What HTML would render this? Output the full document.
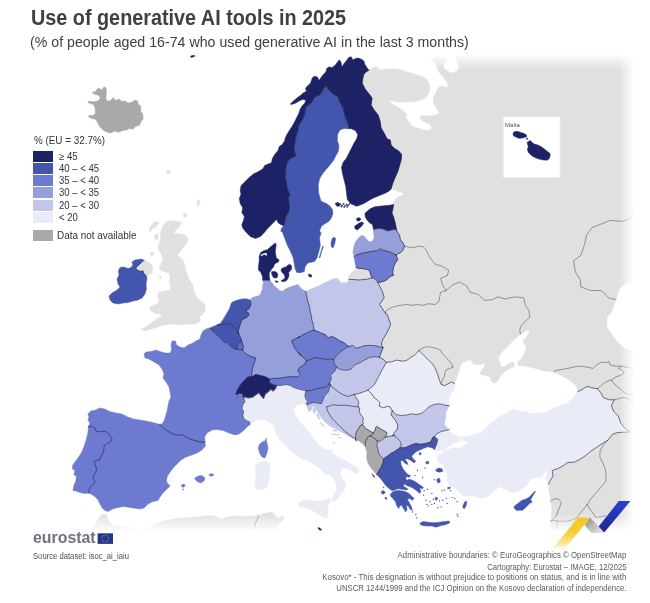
<!DOCTYPE html>
<html lang="en"><head><meta charset="utf-8"><title>Use of generative AI tools in 2025</title>
<style>
html,body{margin:0;padding:0;background:#fff;}
body{width:650px;height:603px;position:relative;overflow:hidden;font-family:"Liberation Sans",sans-serif;color:#404040;}
#map{position:absolute;left:0;top:0;width:650px;height:603px;}
.t{position:absolute;white-space:nowrap;line-height:1;}
#title{left:31px;top:8.2px;font-size:21.5px;font-weight:bold;color:#404040;transform:scaleX(0.921);transform-origin:0 0;}
#sub{left:30px;top:34.8px;font-size:14.3px;color:#404040;transform:scaleX(0.993);transform-origin:0 0;}
#leg{position:absolute;left:33px;top:134px;font-size:10px;color:#333;}
.lt{position:absolute;left:0.5px;top:2.2px;white-space:nowrap;line-height:1;transform:scaleX(0.986);transform-origin:0 0;}
.sw{position:absolute;left:0;width:20px;height:11px;}
.ll{position:absolute;left:25.7px;white-space:nowrap;line-height:11px;transform:scaleX(0.955);transform-origin:0 0;}
.f{position:absolute;right:23.8px;font-size:8.5px;line-height:1;color:#5a5a5a;white-space:nowrap;transform-origin:100% 0;}
#src{left:33px;top:551.5px;font-size:8.5px;color:#505050;transform:scaleX(0.903);transform-origin:0 0;}
#euro{left:33px;top:530.4px;font-size:16px;font-weight:bold;color:#70737f;transform:scaleX(0.992);transform-origin:0 0;}
</style></head><body>
<svg id="map" width="650" height="603" viewBox="0 0 650 603">
<defs>
<linearGradient id="ft" x1="0" y1="0" x2="0" y2="1"><stop offset="0" stop-color="#fff" stop-opacity="1"/><stop offset="1" stop-color="#fff" stop-opacity="0"/></linearGradient>
<linearGradient id="fb" x1="0" y1="1" x2="0" y2="0"><stop offset="0" stop-color="#fff" stop-opacity="1"/><stop offset="1" stop-color="#fff" stop-opacity="0"/></linearGradient>
<linearGradient id="fr" x1="1" y1="0" x2="0" y2="0"><stop offset="0" stop-color="#fff" stop-opacity="1"/><stop offset="1" stop-color="#fff" stop-opacity="0"/></linearGradient>
<linearGradient id="gy" x1="0" y1="0" x2="0" y2="1"><stop offset="0" stop-color="#f6c620"/><stop offset="0.45" stop-color="#f8cd34"/><stop offset="0.75" stop-color="#fbe389"/><stop offset="1" stop-color="#fff"/></linearGradient>
<linearGradient id="gg" x1="0" y1="0" x2="1" y2="1"><stop offset="0" stop-color="#8d8d8d"/><stop offset="1" stop-color="#ececec"/></linearGradient>
<linearGradient id="gb" x1="0" y1="0" x2="0" y2="1"><stop offset="0" stop-color="#2b3fd0"/><stop offset="1" stop-color="#1b2a8a"/></linearGradient>
<clipPath id="cm"><rect x="25" y="54" width="610" height="478"/></clipPath>
</defs>
<g clip-path="url(#cm)">
<g fill="#e0e0e0" stroke="#e0e0e0" stroke-width="0.4" stroke-linejoin="round">
<path d="M369.0,70.0 373.1,66.9 376.2,66.2 378.5,68.5 381.5,70.0 385.4,69.2 391.5,68.8 397.7,69.2 403.8,70.8 410.0,72.8 416.2,74.6 422.3,76.5 426.2,79.2 428.5,82.3 429.7,86.2 429.7,90.0 428.5,93.8 426.2,96.9 423.1,99.2 419.2,100.8 414.6,101.5 408.5,102.0 402.3,102.3 396.9,102.0 393.1,100.8 389.2,100.0 390.8,102.3 393.1,104.6 396.9,106.6 400.8,109.2 404.6,111.5 406.6,114.6 406.2,117.7 407.7,120.5 410.0,123.1 412.3,126.2 416.2,127.7 419.2,128.5 423.1,130.0 427.7,130.3 430.8,129.2 431.5,126.9 430.0,124.6 426.9,123.1 423.1,121.5 420.8,119.2 420.0,116.9 422.3,115.4 426.2,115.8 431.5,115.8 436.2,114.6 439.2,112.8 437.7,110.0 435.4,106.9 433.4,103.1 433.1,99.2 434.3,95.4 436.2,91.5 437.7,88.5 440.0,86.2 443.8,86.2 448.5,87.7 447.7,84.6 446.2,80.8 443.8,77.7 440.8,74.6 438.5,71.5 436.9,67.7 435.4,63.8 433.1,61.5 430.8,59.5 434.6,57.4 439.2,56.5 443.8,56.9 446.9,58.5 446.2,61.5 443.8,64.6 443.5,67.7 446.2,70.0 450.0,72.3 453.8,73.1 456.9,70.8 458.9,67.7 458.0,63.8 456.5,60.0 456.2,56.9 458.5,55.4 462.3,54.6 470.0,54.3 645.0,54.0 645.0,540.0 549.0,540.0 549.9,531.4 550.3,526.8 550.7,521.2 551.2,515.7 551.8,510.1 551.2,504.6 550.3,499.1 549.4,493.5 548.5,488.9 548.5,484.3 560.0,455.0 585.0,420.0 577.8,391.7 576.6,387.1 573.1,383.1 567.3,378.9 560.8,375.5 554.0,372.0 554.0,372.0 544.1,370.9 538.2,369.2 533.1,367.9 528.0,366.7 522.9,365.8 518.7,365.8 517.8,364.2 517.5,361.6 519.5,360.8 522.1,358.2 523.8,354.0 525.5,349.8 526.3,345.9 523.8,343.8 522.9,340.5 525.5,337.9 528.0,334.5 529.7,331.2 528.0,330.0 525.5,331.2 522.1,333.7 520.5,334.0 520.5,334.0 519.5,335.4 516.2,337.9 512.8,341.3 509.4,344.7 506.0,348.1 502.6,351.5 500.1,354.8 498.4,358.2 499.2,361.6 500.6,364.2 501.3,366.7 504.3,366.7 507.7,364.2 511.1,362.8 514.5,362.1 514.8,364.2 513.6,366.7 510.2,368.4 506.8,370.1 504.0,372.3 501.3,375.2 499.2,378.5 496.7,381.9 493.3,383.1 491.1,381.1 490.4,377.7 487.4,376.0 483.2,375.2 479.8,374.3 480.3,372.6 482.3,369.2 484.3,365.8 485.7,362.8 482.3,364.2 478.1,365.0 473.8,364.2 471.3,362.5 472.2,360.4 468.8,359.9 465.4,361.6 462.0,363.3 460.3,365.8 459.5,370.1 457.8,375.2 456.1,379.4 454.5,383.7 430.0,390.0 400.0,375.0 370.0,365.0 360.0,340.0 360.0,300.0 348.9,279.2 348.7,275.8 350.4,274.1 353.8,270.7 356.0,267.3 375.0,262.0 385.0,245.0 388.0,215.0 393.5,204.6 393.5,202.6 394.4,200.1 396.9,197.5 401.2,195.8 404.2,193.8 400.3,192.1 396.1,190.8 392.7,189.1 390.7,189.6 375.0,170.0 370.0,120.0 355.0,85.0 363.0,76.0 364.0,74.0 366.0,72.0 369.0,70.0Z M166.0,222.0 171.0,220.6 177.0,221.0 182.0,222.6 179.0,227.0 175.0,231.0 174.0,234.0 179.0,233.4 185.0,235.0 188.0,238.0 187.0,243.0 183.0,248.0 180.0,252.0 177.0,255.0 180.0,257.0 183.0,260.0 185.0,265.0 186.0,271.0 188.0,277.0 191.0,282.0 193.0,286.0 194.0,291.0 196.0,296.0 199.0,300.0 203.0,302.0 205.6,306.0 205.0,311.0 202.0,315.0 199.0,318.0 201.0,320.0 198.0,323.0 193.0,324.6 188.0,324.0 182.0,325.0 176.0,324.6 171.0,324.0 165.0,325.0 160.0,326.0 155.0,328.0 150.0,329.4 145.0,331.0 141.0,330.0 145.0,327.0 150.0,324.0 154.0,321.0 158.0,318.0 162.0,316.0 160.0,314.0 155.0,313.0 150.0,310.0 149.6,307.4 154.0,305.0 158.0,303.0 159.0,299.0 157.0,295.0 159.0,292.0 164.0,291.0 169.0,290.6 171.0,287.0 169.0,283.0 170.0,278.0 169.0,273.0 166.0,272.0 162.0,271.0 159.0,268.0 161.0,264.0 163.0,260.0 162.0,256.0 160.0,252.0 158.0,248.0 159.0,243.0 161.0,238.0 160.0,233.0 162.0,228.0 164.0,224.0Z M141.0,263.0 144.4,260.6 148.0,262.0 151.6,264.6 153.0,269.0 152.0,273.0 149.0,275.0 146.4,276.0 144.0,274.0 143.0,271.0 140.0,271.4 137.0,270.0 135.6,268.0 138.0,265.4Z M153.0,223.0 157.0,221.0 159.0,223.0 156.0,227.0 152.4,229.0 150.0,232.0 149.0,230.0Z M154.4,235.0 157.6,234.0 158.4,237.0 157.0,240.6 155.0,239.0Z M150.0,252.6 153.0,252.0 154.0,254.6 151.6,256.2Z M159.2,276.0 160.8,275.6 161.2,278.2 159.6,279.0Z M166.5,170.5 169.0,170.0 170.5,171.3 169.5,173.3 167.0,173.0Z M197.5,200.5 199.5,199.8 200.5,202.0 198.8,205.5 197.3,206.5 196.8,204.0Z M183.3,214.5 185.8,213.0 187.3,215.3 185.5,217.5 183.5,217.0Z M85.0,540.0 90.5,531.3 101.2,514.8 106.5,514.3 107.6,518.9 110.4,523.0 114.5,525.8 121.9,526.7 131.2,527.6 134.0,529.0 140.0,531.0 146.0,530.0 152.0,526.0 158.0,523.0 164.0,521.0 172.0,519.0 180.0,518.0 190.0,517.6 200.0,516.4 210.0,515.6 215.0,516.0 221.0,519.0 227.0,517.0 235.0,516.0 243.0,516.6 251.0,516.0 259.0,515.0 266.0,513.0 272.0,512.0 275.0,515.0 278.0,518.0 283.0,516.4 284.0,519.0 280.0,523.0 277.0,527.0 276.0,532.0 277.0,540.0Z"/>
</g>
<path fill="#fff" d="M650.0,279.0 636.0,281.0 627.0,283.0 620.0,288.5 616.0,299.5 612.3,310.8 607.0,318.5 607.5,328.0 613.0,336.0 618.0,342.5 625.0,348.0 633.0,352.0 650.0,356.0Z"/>
<g fill="none" stroke="#5c5c5c" stroke-width="0.6" stroke-linejoin="round" stroke-linecap="round">
<path d="M404.5,246.2 407.9,247.0 413.0,247.8 418.1,246.2 423.2,246.7 426.5,250.4 428.2,254.6 430.8,258.8 435.0,263.9 442.5,266.5 448.7,270.2 447.3,275.7 440.6,278.3 442.5,284.9 446.0,290.5 M385.3,313.0 387.6,309.6 392.7,307.1 399.5,305.4 406.2,304.5 413.0,305.4 417.2,304.5 423.2,305.4 428.2,303.7 435.0,304.5 438.8,301.6 440.6,292.3 446.0,290.5 M446.0,290.5 451.7,285.7 459.1,282.0 466.5,285.7 470.2,292.3 477.5,294.2 484.9,300.4 492.3,299.7 497.9,296.8 505.2,299.0 514.5,296.8 523.7,297.9 525.5,305.8 529.0,310.4 529.7,317.4 524.4,322.1 521.4,325.5 519.7,330.2 520.5,334.0 M634.5,207.4 630.8,218.5 621.6,221.4 610.5,220.3 601.3,224.0 592.0,227.7 586.5,235.1 584.6,244.3 580.9,255.4 573.6,260.9 575.4,272.0 580.2,279.4 580.9,286.8 590.2,290.5 601.3,290.5 608.6,297.9 616.0,299.7 M553.9,372.0 554.6,370.8 560.4,369.7 567.3,368.5 574.3,366.9 581.3,366.2 588.2,367.3 592.9,368.5 596.4,365.0 601.0,362.2 605.6,362.7 609.1,361.5 610.3,365.0 616.1,366.2 621.2,366.2 M597.5,388.7 602.2,384.7 606.8,381.3 611.4,380.1 M611.4,380.1 616.1,376.6 620.7,375.5 624.2,373.1 621.9,369.7 618.4,368.5 621.2,366.2 626.5,367.3 633.5,368.5 M611.4,380.1 614.9,384.7 619.6,388.2 623.1,391.7 626.5,394.0 633.5,395.7 M614.2,399.8 618.4,398.7 623.1,397.5 627.7,398.7 633.5,402.6 M607.5,440.5 602.9,445.5 600.1,451.1 599.8,456.6 602.4,462.2 604.8,467.7 606.1,474.2 605.7,481.5 601.1,487.1 595.5,493.5 590.0,500.0 587.2,504.6 M587.2,504.6 583.5,509.2 579.8,513.8 577.1,517.5 574.3,519.4 566.9,521.2 557.7,521.2 M587.2,504.6 590.0,509.2 593.7,513.8 595.5,517.5 601.1,516.6 605.7,515.7 M550.7,500.9 554.9,498.7 558.6,499.1 561.4,502.8 559.5,507.4 557.7,512.0 555.8,516.6 553.1,519.4 550.7,520.9 M550.7,521.2 554.0,520.3 557.7,521.2 556.8,526.8 555.8,531.4 M258.4,516.4 255.6,523.0 254.4,530.0"/>
<path d="M419.0,350.5 422.0,348.5 426.2,346.8 431.3,347.1 436.4,348.5 440.6,350.2 442.3,353.5 445.4,356.9 448.2,359.5 450.8,362.8 453.3,367.1 449.9,368.4 446.5,369.6 444.8,373.0 444.3,376.4 442.3,379.8 441.5,383.2 441.5,384.5"/>
</g>
<rect x="300" y="54" width="340" height="15" fill="url(#ft)"/>
<rect x="0" y="514" width="650" height="18" fill="url(#fb)"/>
<path fill="#1d2266" stroke="#1d2266" stroke-width="0.5" stroke-linejoin="round" d="M283.8,226.0 280.8,224.6 278.2,222.9 276.5,219.5 274.8,221.2 271.5,224.6 268.1,228.0 263.8,233.1 260.5,236.5 255.4,238.5 250.3,236.5 246.1,232.2 242.7,228.0 241.8,224.6 243.5,220.4 244.4,216.2 241.8,212.8 242.7,207.7 240.2,203.5 239.3,198.4 241.0,194.2 240.2,190.8 241.0,185.7 244.4,182.3 248.6,178.1 253.7,173.8 258.8,171.3 263.0,168.8 264.7,165.4 268.9,163.7 271.5,162.8 272.3,158.6 274.8,154.4 278.2,150.2 279.1,146.8 282.5,144.2 285.0,140.0 284.9,138.8 286.9,134.5 289.5,130.3 291.7,126.9 293.7,123.5 295.4,120.2 297.1,116.8 298.8,113.4 300.1,109.2 302.2,105.8 304.7,103.2 305.9,100.4 303.0,99.3 299.6,100.7 295.4,103.2 291.2,104.6 290.3,104.1 293.7,100.7 297.9,97.3 301.3,94.8 303.8,92.6 306.4,91.4 305.5,88.0 308.1,85.5 310.6,82.9 312.3,77.8 314.8,76.2 317.4,77.0 319.1,80.4 320.8,77.8 323.3,74.5 325.8,71.9 326.7,68.5 329.2,66.8 331.8,67.7 335.2,65.2 337.7,61.8 339.4,59.7 341.1,62.6 341.9,66.8 343.6,64.3 346.2,60.9 348.7,57.5 351.2,56.7 352.9,60.1 355.5,58.4 358.0,58.0 361.4,59.2 363.9,60.9 364.8,64.3 366.5,66.8 368.2,69.4 369.0,70.0 366.0,72.0 364.0,74.0 363.0,76.0 360.0,71.0 355.0,69.0 351.0,70.0 348.0,73.0 347.0,79.0 346.0,85.0 344.0,89.0 340.0,88.0 337.0,91.0 333.0,90.0 329.0,87.0 325.6,85.4 323.0,90.0 320.0,95.0 315.0,97.0 312.0,102.0 310.0,104.0 306.0,107.0 305.0,113.0 303.0,119.0 299.0,125.0 298.0,131.0 296.0,137.0 295.0,143.0 294.0,149.0 295.0,153.0 296.0,156.1 293.5,156.9 289.2,159.5 286.7,163.7 285.8,168.8 285.5,173.8 285.8,178.9 286.7,184.0 287.5,189.1 290.1,194.2 288.4,198.4 289.2,202.6 289.6,207.7 288.4,212.8 285.8,217.0 285.0,221.2 283.8,226.0Z"/>
<path fill="#1d2266" stroke="#1d2266" stroke-width="0.5" stroke-linejoin="round" d="M348.8,128.7 350.7,128.6 355.6,130.7 357.8,134.9 356.5,139.0 354.0,143.2 351.5,148.1 349.0,153.1 346.5,158.1 343.2,162.2 341.5,167.2 342.4,173.0 344.0,179.7 345.7,186.3 346.5,192.9 347.3,199.6 350.7,203.7 356.5,206.2 359.7,205.2 363.9,203.5 368.2,200.9 372.4,198.4 376.6,196.7 380.8,195.0 385.1,193.3 388.5,191.6 390.2,189.9 390.7,189.6 392.7,183.2 395.2,177.2 397.8,171.3 399.5,165.4 401.2,159.5 401.5,154.4 398.6,151.0 394.4,148.5 391.0,145.1 390.2,140.0 387.0,139.0 384.0,133.0 381.0,128.0 380.0,121.0 378.0,115.0 374.0,110.0 371.0,105.0 372.0,98.0 369.0,94.0 365.0,89.0 362.0,83.0 363.0,77.0 363.0,76.0 360.0,71.0 355.0,69.0 351.0,70.0 348.0,73.0 347.0,79.0 346.0,85.0 344.0,89.0 340.0,88.0 337.0,91.0 333.0,90.0 329.0,87.0 325.6,85.4 328.0,89.0 333.0,94.0 338.0,97.0 340.0,103.0 343.0,108.0 344.0,113.0 346.0,119.0 348.0,124.0 348.8,128.7Z M335.2,203.5 337.7,202.3 340.2,204.0 339.4,206.3 336.5,206.0Z"/>
<path fill="#4455ae" stroke="#4455ae" stroke-width="0.5" stroke-linejoin="round" d="M348.8,128.7 344.0,128.6 339.9,129.9 337.4,134.9 337.4,140.7 339.0,145.7 338.2,151.5 335.7,156.1 333.6,160.2 329.6,165.4 325.8,169.7 322.5,173.8 319.6,178.8 318.3,184.6 318.6,192.9 320.8,200.4 322.2,201.8 326.5,203.5 329.8,206.0 332.4,209.4 332.9,213.6 331.5,217.8 329.0,221.2 324.8,223.8 321.4,226.3 319.7,230.5 320.5,234.8 321.2,231.8 319.5,238.5 320.4,245.3 318.7,252.1 317.0,258.0 314.5,261.4 307.7,263.1 305.2,266.5 304.3,271.5 300.9,272.7 296.7,272.4 295.0,268.2 294.2,263.1 293.3,258.0 290.8,252.1 287.4,245.3 284.8,238.5 282.3,231.8 280.8,231.4 281.6,228.0 283.8,226.0 285.0,221.2 285.8,217.0 288.4,212.8 289.6,207.7 289.2,202.6 288.4,198.4 290.1,194.2 287.5,189.1 286.7,184.0 285.8,178.9 285.5,173.8 285.8,168.8 286.7,163.7 289.2,159.5 293.5,156.9 296.0,156.1 295.0,153.0 294.0,149.0 295.0,143.0 296.0,137.0 298.0,131.0 299.0,125.0 303.0,119.0 305.0,113.0 306.0,107.0 310.0,104.0 312.0,102.0 315.0,97.0 320.0,95.0 323.0,90.0 325.6,85.4 328.0,89.0 333.0,94.0 338.0,97.0 340.0,103.0 343.0,108.0 344.0,113.0 346.0,119.0 348.0,124.0 348.8,128.7Z M322.6,246.2 323.3,246.7 321.2,252.9 319.9,258.0 319.2,257.7 320.9,252.1Z M332.2,238.5 333.9,237.2 335.6,238.2 334.8,243.6 333.1,247.8 331.4,247.0 331.0,242.8Z"/>
<path fill="#1d2266" stroke="#1d2266" stroke-width="0.5" stroke-linejoin="round" d="M373.5,229.5 372.4,224.6 369.8,222.9 367.3,220.4 365.3,217.0 364.8,213.6 367.3,211.1 370.7,208.5 374.9,206.8 379.2,206.3 384.2,205.7 389.3,205.2 393.5,204.6 392.7,209.4 391.8,212.8 393.5,217.0 394.7,221.2 395.7,225.5 396.5,230.3 396.1,229.2 391.8,230.1 387.6,230.9 383.4,229.2 379.2,228.4 373.5,229.5Z M356.3,218.7 358.8,217.5 360.9,218.7 359.7,220.9 357.2,220.9Z M354.6,226.3 358.0,223.8 361.4,222.1 363.6,222.9 362.2,225.5 359.7,228.0 357.2,230.0 355.1,228.8Z"/>
<path fill="#959fd9" stroke="#959fd9" stroke-width="0.5" stroke-linejoin="round" d="M354.1,256.8 352.9,252.1 353.8,247.0 355.1,242.8 358.0,238.5 361.4,235.2 364.8,236.8 367.3,240.2 369.8,241.9 372.4,241.1 374.1,237.7 373.7,233.5 373.5,229.5 379.2,228.4 383.4,229.2 387.6,230.9 391.8,230.1 396.1,229.2 396.5,230.3 399.5,235.2 400.3,239.4 402.8,242.8 404.5,246.2 402.8,250.4 400.3,252.9 396.9,254.1 396.1,255.1 391.8,252.9 387.6,251.2 383.4,250.4 380.5,248.7 377.5,250.7 373.2,251.2 368.2,252.1 363.9,252.9 359.7,253.8 356.3,255.1 354.1,256.8Z"/>
<path fill="#6c7ad0" stroke="#6c7ad0" stroke-width="0.5" stroke-linejoin="round" d="M356.0,267.3 355.1,263.1 354.6,259.7 354.1,256.8 356.3,255.1 359.7,253.8 363.9,252.9 368.2,252.1 373.2,251.2 377.5,250.7 380.5,248.7 383.4,250.4 387.6,251.2 391.8,252.9 396.1,255.1 397.8,259.7 395.2,263.1 393.5,267.3 392.7,272.4 393.5,275.4 390.2,276.6 387.6,279.2 384.2,281.2 380.0,282.2 377.8,282.2 374.9,279.2 372.7,277.8 372.0,277.8 370.4,274.1 369.8,270.7 366.5,269.3 362.2,268.7 358.0,268.2 356.0,267.3Z"/>
<path fill="#c2c7ea" stroke="#c2c7ea" stroke-width="0.5" stroke-linejoin="round" d="M305.7,291.3 312.3,288.5 318.5,286.1 324.6,283.0 330.8,279.9 336.2,278.1 338.5,279.6 340.3,282.4 343.8,283.0 346.9,282.4 348.6,280.4 348.9,279.2 358.8,280.0 367.3,279.2 372.0,277.8 372.7,277.8 374.9,279.2 377.8,282.2 380.0,286.8 382.5,291.8 384.2,297.8 381.7,301.2 379.5,304.5 382.5,308.8 385.3,313.0 387.2,314.4 388.9,319.5 390.6,324.5 388.9,328.8 386.4,333.8 383.0,338.9 381.3,344.0 383.0,347.7 378.8,346.5 374.5,345.7 369.5,345.4 364.4,345.7 360.2,347.4 355.9,348.2 352.5,345.4 348.8,346.5 346.6,344.8 343.2,342.3 339.0,340.6 335.6,338.1 331.4,336.4 328.0,338.1 325.5,334.7 321.2,333.0 317.0,331.3 314.0,330.1 313.6,325.4 311.9,320.3 311.1,315.2 310.2,311.3 309.4,306.2 307.7,301.2 306.8,296.1 305.7,291.3Z"/>
<path fill="#959fd9" stroke="#959fd9" stroke-width="0.5" stroke-linejoin="round" d="M249.6,300.0 253.2,297.1 256.5,296.5 260.2,294.9 261.3,291.7 262.7,288.5 262.4,285.8 263.5,283.1 262.7,280.3 270.0,280.3 272.1,283.1 274.2,285.8 276.9,287.9 279.6,290.6 282.3,291.2 285.5,289.0 288.8,287.4 292.5,286.3 295.8,285.2 297.9,284.2 299.0,285.8 300.6,287.9 303.3,290.1 305.7,291.3 306.8,296.1 307.7,301.2 309.4,306.2 310.2,311.3 311.1,315.2 311.9,320.3 313.6,325.4 314.0,330.1 310.2,331.3 306.8,333.0 301.8,335.5 297.5,338.1 299.9,336.5 294.8,339.1 291.5,340.8 293.2,344.2 294.8,348.4 298.2,352.6 301.6,356.0 298.4,352.5 302.6,356.7 306.5,360.6 305.9,362.0 303.7,365.1 299.5,367.6 297.8,371.0 300.3,374.4 297.8,376.9 292.7,376.6 287.6,376.9 282.5,377.8 277.5,378.3 272.4,378.6 269.4,379.2 267.8,378.0 264.4,376.6 260.2,375.5 255.9,374.6 252.0,376.8 251.7,372.9 252.5,367.8 254.2,362.8 255.9,358.0 250.8,356.3 246.6,354.3 244.1,352.3 242.6,349.6 243.3,347.2 242.8,344.3 241.6,341.7 241.3,339.3 240.3,337.3 239.3,335.3 238.6,333.3 238.0,330.6 238.8,329.3 239.3,327.3 240.0,324.9 240.8,322.4 241.8,320.4 243.3,318.9 244.8,318.4 246.8,317.4 248.3,315.9 248.8,313.9 247.8,312.4 245.8,311.4 246.3,309.9 248.8,308.9 249.8,306.9 250.8,304.5 250.6,302.0 249.6,300.0Z"/>
<path fill="#1d2266" stroke="#1d2266" stroke-width="0.5" stroke-linejoin="round" d="M262.7,280.3 262.4,276.6 260.8,272.3 258.6,270.2 258.4,266.9 259.2,261.5 259.2,256.2 260.8,252.4 263.5,250.8 267.2,249.7 269.9,247.5 272.1,245.4 274.2,243.8 275.8,243.2 276.2,245.4 275.6,248.6 275.3,251.8 275.8,255.1 276.4,258.3 278.5,259.2 279.1,261.0 277.5,262.6 275.6,263.2 274.2,264.8 273.7,266.9 272.1,268.5 270.5,270.7 269.4,272.8 269.2,275.5 269.6,278.2 270.0,280.3Z M271.5,271.8 274.2,271.2 276.7,272.3 277.8,274.5 277.5,277.2 275.3,278.2 273.2,277.2 271.8,274.5Z M281.2,269.1 283.4,267.5 286.1,266.9 287.7,265.3 289.8,264.2 291.5,265.8 291.8,268.5 290.4,270.7 288.8,272.3 289.0,275.5 288.2,278.2 286.6,280.4 284.5,281.5 281.8,281.5 281.2,280.4 283.9,279.3 285.0,277.2 284.2,274.5 282.3,272.8 281.2,271.2Z M275.3,280.7 278.2,281.5 277.8,282.5 275.6,282.0Z M308.2,274.5 310.3,274.2 311.9,275.5 311.2,277.2 309.0,276.6Z"/>
<path fill="#4455ae" stroke="#4455ae" stroke-width="0.5" stroke-linejoin="round" d="M217.4,324.7 220.4,323.4 221.4,321.9 223.4,318.9 224.9,316.4 226.4,313.9 227.9,311.4 229.4,308.9 230.4,305.9 231.1,303.5 232.4,302.0 234.9,301.0 237.8,300.0 240.8,299.2 244.3,298.8 247.3,299.0 249.6,300.0 250.6,302.0 250.8,304.5 249.8,306.9 248.8,308.9 246.3,309.9 245.8,311.4 247.8,312.4 248.8,313.9 248.3,315.9 246.8,317.4 244.8,318.4 243.3,318.9 241.8,320.4 240.8,322.4 240.0,324.9 239.3,327.3 238.8,329.3 238.0,330.6 238.6,333.3 237.8,330.8 236.8,329.3 235.3,327.8 233.9,326.3 231.9,324.9 229.9,324.1 227.4,323.7 224.9,323.9 222.4,324.4 219.9,324.9 217.4,324.7Z"/>
<path fill="#4455ae" stroke="#4455ae" stroke-width="0.5" stroke-linejoin="round" d="M210.1,328.0 217.4,324.7 219.9,324.9 222.4,324.4 224.9,323.9 227.4,323.7 229.9,324.1 231.9,324.9 233.9,326.3 235.3,327.8 236.8,329.3 237.8,330.8 238.6,333.3 239.3,335.3 240.3,337.3 241.3,339.3 241.6,341.7 239.0,341.6 237.6,344.3 237.0,346.7 236.9,349.4 234.9,349.2 232.9,348.2 231.1,346.7 229.4,345.2 227.9,343.8 226.4,342.3 224.4,342.8 222.9,341.3 221.4,339.3 219.9,337.3 217.9,335.8 215.9,334.3 214.5,332.8 212.5,331.3 211.0,329.3 210.1,328.0Z"/>
<path fill="#586bc6" stroke="#586bc6" stroke-width="0.5" stroke-linejoin="round" d="M241.6,341.7 239.0,341.6 237.6,344.3 237.0,346.7 236.9,349.4 239.8,349.8 242.6,349.6 243.3,347.2 242.8,344.3 241.6,341.7Z"/>
<path fill="#6c7ad0" stroke="#6c7ad0" stroke-width="0.5" stroke-linejoin="round" d="M210.1,328.0 207.0,328.4 203.0,331.0 201.0,335.0 200.0,339.0 196.0,341.0 192.0,343.6 188.0,345.0 184.0,348.0 180.0,347.0 176.4,345.0 175.6,341.0 172.0,341.0 171.0,345.0 171.6,350.0 170.0,353.0 165.0,353.0 160.0,351.6 156.0,350.0 151.0,351.6 146.0,352.0 144.0,354.0 145.0,358.0 149.0,359.0 154.0,362.0 159.0,365.0 162.0,369.0 164.0,374.0 163.0,378.0 166.0,382.0 169.0,387.0 170.0,392.0 171.0,397.0 169.0,401.0 168.0,406.0 167.0,411.0 165.6,416.0 164.0,421.0 162.0,424.0 159.5,424.3 162.0,427.0 166.0,430.0 171.0,433.0 177.0,435.4 182.0,434.6 186.0,437.0 190.0,439.0 195.0,440.6 200.0,442.0 205.0,442.0 204.6,437.0 207.0,433.0 212.0,430.0 217.0,429.4 223.0,430.6 229.0,433.0 235.0,435.0 239.0,434.0 243.0,431.0 247.0,427.0 250.0,424.0 249.5,425.0 250.0,422.3 247.0,420.9 243.6,418.4 242.8,415.0 243.6,411.6 241.9,408.2 242.8,404.8 245.0,401.5 243.6,398.0 242.8,393.8 239.4,393.0 236.8,394.7 236.0,393.8 237.7,389.6 240.2,385.4 243.6,381.2 247.0,377.8 248.7,376.9 252.0,376.8 251.7,372.9 252.5,367.8 254.2,362.8 255.9,358.0 250.8,356.3 246.6,354.3 244.1,352.3 242.6,349.6 239.8,349.8 236.9,349.4 234.9,349.2 232.9,348.2 231.1,346.7 229.4,345.2 227.9,343.8 226.4,342.3 224.4,342.8 222.9,341.3 221.4,339.3 219.9,337.3 217.9,335.8 215.9,334.3 214.5,332.8 212.5,331.3 211.0,329.3 210.1,328.0Z M266.0,438.0 267.0,443.0 268.0,448.0 267.0,453.0 265.0,458.0 262.0,457.0 260.0,454.0 258.4,449.0 259.0,445.0 262.0,442.0 265.0,441.0Z"/>
<path fill="#1d2266" stroke="#1d2266" stroke-width="0.5" stroke-linejoin="round" d="M252.0,376.8 248.7,376.9 247.0,377.8 243.6,381.2 240.2,385.4 237.7,389.6 236.0,393.8 236.8,394.7 239.4,393.0 242.8,393.8 243.6,398.0 244.5,397.2 248.7,398.1 252.9,397.2 256.3,394.7 258.8,393.0 261.4,396.4 263.6,398.9 265.6,393.8 268.2,392.2 270.7,389.6 273.2,391.3 275.8,388.8 276.6,385.4 273.2,384.5 269.8,382.8 269.4,379.2 267.8,378.0 264.4,376.6 260.2,375.5 255.9,374.6 252.0,376.8Z"/>
<path fill="#6c7ad0" stroke="#6c7ad0" stroke-width="0.5" stroke-linejoin="round" d="M88.3,426.9 89.9,422.9 87.9,419.9 88.9,416.9 87.9,413.9 90.8,410.9 95.8,410.0 99.8,408.0 104.8,409.0 109.8,411.5 115.7,412.9 121.7,413.9 127.7,416.9 133.6,418.9 139.6,419.9 145.6,420.9 151.5,422.3 159.5,424.3 162.0,427.0 166.0,430.0 171.0,433.0 177.0,435.4 182.0,434.6 186.0,437.0 190.0,439.0 195.0,440.6 200.0,442.0 205.0,442.0 205.4,446.0 202.0,450.0 197.0,453.0 192.0,455.0 186.0,457.0 181.0,460.0 178.0,463.0 174.0,467.0 170.0,472.0 167.0,477.0 166.6,482.0 170.0,486.0 167.0,489.0 163.0,493.0 160.0,497.0 158.0,500.6 153.0,501.4 148.0,504.0 144.0,508.0 140.0,509.0 129.7,507.5 123.7,506.5 117.7,507.5 112.7,509.1 107.8,511.4 104.8,510.4 101.8,507.5 99.8,503.5 97.8,499.5 94.8,496.5 91.8,494.5 88.9,493.1 88.9,490.5 89.9,487.6 92.8,484.6 94.8,481.6 92.8,477.6 94.8,473.6 96.8,469.7 95.4,465.7 94.2,461.7 95.8,460.7 99.8,459.7 100.8,456.7 102.8,453.7 103.8,449.8 104.2,445.8 106.8,443.8 110.7,441.8 112.1,438.2 109.8,435.8 107.8,432.8 104.8,431.4 99.8,431.8 95.8,430.8 94.8,427.9 91.8,426.3 88.3,426.9Z M194.4,478.6 198.0,476.0 202.0,475.4 205.0,478.0 204.0,481.0 200.6,483.0 197.0,481.4Z M209.0,474.4 212.0,473.6 214.0,475.0 212.0,476.2 209.4,475.8Z M181.4,485.0 184.0,484.0 185.4,485.4 183.4,487.4 181.6,486.6Z M182.6,489.0 183.6,489.0 183.6,490.0 182.6,490.0Z"/>
<path fill="#6c7ad0" stroke="#6c7ad0" stroke-width="0.5" stroke-linejoin="round" d="M88.9,493.1 84.9,493.5 79.9,492.5 75.9,491.1 72.9,490.5 73.9,485.6 75.9,480.6 76.3,476.6 73.9,474.6 74.9,470.6 72.3,468.7 72.9,464.7 75.9,460.7 78.9,456.7 81.9,451.7 83.9,446.8 85.9,440.8 87.5,434.8 88.3,429.9 88.3,426.9 91.8,426.3 94.8,427.9 95.8,430.8 99.8,431.8 104.8,431.4 107.8,432.8 109.8,435.8 112.1,438.2 110.7,441.8 106.8,443.8 104.2,445.8 103.8,449.8 102.8,453.7 100.8,456.7 99.8,459.7 95.8,460.7 94.2,461.7 95.4,465.7 96.8,469.7 94.8,473.6 92.8,477.6 94.8,481.6 92.8,484.6 89.9,487.6 88.9,490.5 88.9,493.1Z"/>
<path fill="#6c7ad0" stroke="#6c7ad0" stroke-width="0.5" stroke-linejoin="round" d="M314.0,330.1 310.2,331.3 306.8,333.0 301.8,335.5 297.5,338.1 299.9,336.5 294.8,339.1 291.5,340.8 293.2,344.2 294.8,348.4 298.2,352.6 301.6,356.0 298.4,352.5 302.6,356.7 306.5,360.6 311.1,359.2 315.3,357.5 320.4,358.4 325.5,359.2 330.5,359.2 333.6,359.6 336.5,355.8 339.8,352.5 343.2,349.9 346.6,347.4 348.8,346.5 346.6,344.8 343.2,342.3 339.0,340.6 335.6,338.1 331.4,336.4 328.0,338.1 325.5,334.7 321.2,333.0 317.0,331.3 314.0,330.1Z"/>
<path fill="#6c7ad0" stroke="#6c7ad0" stroke-width="0.5" stroke-linejoin="round" d="M269.4,379.2 272.4,378.6 277.5,378.3 282.5,377.8 287.6,376.9 292.7,376.6 297.8,376.9 300.3,374.4 297.8,371.0 299.5,367.6 303.7,365.1 305.9,362.0 306.5,360.6 311.1,359.2 315.3,357.5 320.4,358.4 325.5,359.2 330.5,359.2 333.6,359.6 334.3,363.5 336.5,366.8 335.6,370.2 333.1,372.8 330.5,375.3 331.4,378.7 329.5,383.0 326.5,387.1 321.5,387.9 316.4,388.8 311.3,390.5 306.1,390.8 302.8,390.1 297.8,388.8 292.7,387.1 290.2,385.4 285.9,384.5 280.8,385.4 276.6,385.4 273.2,384.5 269.8,382.8 269.4,379.2Z"/>
<path fill="#959fd9" stroke="#959fd9" stroke-width="0.5" stroke-linejoin="round" d="M333.6,359.6 336.5,355.8 339.8,352.5 343.2,349.9 346.6,347.4 348.8,346.5 352.5,345.4 355.9,348.2 360.2,347.4 364.4,345.7 369.5,345.4 374.5,345.7 378.8,346.5 383.0,347.7 381.3,352.5 379.3,357.2 374.5,356.7 369.5,357.5 364.4,360.1 360.2,362.6 355.9,364.3 352.5,366.8 350.8,369.4 345.8,370.2 340.7,369.7 337.3,367.7 336.5,366.8 334.3,363.5 333.6,359.6Z"/>
<path fill="#c2c7ea" stroke="#c2c7ea" stroke-width="0.5" stroke-linejoin="round" d="M336.5,366.8 337.3,367.7 340.7,369.7 345.8,370.2 350.8,369.4 352.5,366.8 355.9,364.3 360.2,362.6 364.4,360.1 369.5,357.5 374.5,356.7 379.3,357.2 383.0,359.2 386.4,362.3 383.8,366.8 381.3,371.1 378.8,376.2 376.2,381.2 373.7,385.5 370.3,388.0 368.0,390.1 362.7,392.2 357.6,393.9 354.0,394.5 347.5,396.5 343.2,394.8 339.0,392.2 335.6,389.7 332.2,387.2 330.5,384.6 330.2,385.3 329.5,383.0 331.4,378.7 330.5,375.3 333.1,372.8 335.6,370.2 336.5,366.8Z"/>
<path fill="#6c7ad0" stroke="#6c7ad0" stroke-width="0.5" stroke-linejoin="round" d="M306.1,390.8 311.3,390.5 316.4,388.8 321.5,387.9 326.5,387.1 329.5,383.0 330.2,385.3 328.2,392.2 325.7,394.7 324.6,396.2 322.8,399.9 321.5,403.6 317.2,403.0 313.5,402.4 309.8,403.6 307.3,404.9 306.2,404.2 307.4,401.2 305.5,398.7 304.9,395.0 306.1,390.8Z"/>
<path fill="#c2c7ea" stroke="#c2c7ea" stroke-width="0.5" stroke-linejoin="round" d="M307.3,404.9 306.8,405.5 307.4,408.5 309.2,411.6 311.1,410.4 312.3,407.3 313.5,406.1 316.0,409.8 318.5,413.5 320.9,417.2 323.4,420.2 325.8,422.7 328.9,425.2 332.0,427.2 335.7,428.8 339.4,430.7 342.5,432.5 345.5,434.4 348.6,436.2 351.7,437.8 354.8,439.3 356.3,441.0 355.6,439.3 354.8,438.3 352.3,436.8 349.8,435.0 347.4,433.2 344.9,431.3 342.5,428.8 340.0,426.4 337.5,423.9 335.1,421.5 332.6,419.0 330.8,416.5 328.9,413.5 327.1,409.8 326.5,406.7 329.5,406.1 332.6,404.8 336.3,405.1 340.6,405.5 344.3,405.1 348.0,405.5 351.7,406.1 355.4,406.7 358.0,406.8 358.8,401.9 356.3,397.7 354.0,394.5 347.5,396.5 343.2,394.8 339.0,392.2 335.6,389.7 332.2,387.2 330.5,384.6 330.2,385.3 328.2,392.2 325.7,394.7 324.6,396.2 322.8,399.9 321.5,403.6 317.2,403.0 313.5,402.4 309.8,403.6 307.3,404.9Z M312.9,408.5 314.5,407.9 315.4,410.4 314.5,413.5 313.3,412.2Z M316.6,413.5 318.2,414.7 319.9,419.0 319.1,419.6 317.2,416.5Z M320.3,421.5 322.2,423.9 324.0,425.8 323.4,426.4 321.2,424.3Z M333.0,429.8 336.9,430.2 336.9,431.2 333.2,430.9Z M331.4,433.9 339.4,434.4 339.4,435.1 331.5,434.8Z M339.1,437.2 341.2,437.5 341.1,438.2 339.3,438.0Z M333.0,442.4 334.7,442.8 334.5,443.5 333.0,443.2Z"/>
<path fill="#c2c7ea" stroke="#c2c7ea" stroke-width="0.5" stroke-linejoin="round" d="M358.0,406.8 355.4,406.7 351.7,406.1 348.0,405.5 344.3,405.1 340.6,405.5 336.3,405.1 332.6,404.8 329.5,406.1 326.5,406.7 327.1,409.8 328.9,413.5 330.8,416.5 332.6,419.0 335.1,421.5 337.5,423.9 340.0,426.4 342.5,428.8 344.9,431.3 347.4,433.2 349.8,435.0 352.3,436.8 354.8,438.3 355.6,439.3 355.8,436.5 355.8,433.9 356.8,431.2 358.5,428.5 360.1,425.8 362.5,424.7 363.4,423.9 362.8,421.5 363.4,419.0 362.2,416.5 360.3,414.1 359.1,411.0 359.7,407.9 358.0,406.8Z"/>
<path fill="#e9ebf6" stroke="#e9ebf6" stroke-width="0.5" stroke-linejoin="round" d="M368.0,390.1 362.7,392.2 357.6,393.9 354.0,394.5 356.3,397.7 358.8,401.9 358.0,406.8 359.7,407.9 359.1,411.0 360.3,414.1 362.2,416.5 363.4,419.0 362.8,421.5 363.4,423.9 362.5,424.7 363.9,426.6 366.5,429.0 370.3,431.2 373.2,433.1 375.2,430.1 375.7,427.4 377.3,426.6 380.0,428.5 382.7,430.1 385.4,431.7 387.0,432.8 386.5,434.9 385.4,437.1 388.1,436.5 391.3,436.0 394.0,435.5 392.7,435.8 394.4,432.4 396.9,429.8 397.8,425.6 396.1,421.4 393.5,418.0 391.0,414.6 392.4,410.7 391.8,410.4 390.2,407.0 387.6,406.2 383.4,407.8 379.2,406.2 380.0,402.8 377.5,400.2 374.1,397.7 371.5,393.5 368.0,390.1Z"/>
<path fill="#a9a9a9" stroke="#a9a9a9" stroke-width="0.5" stroke-linejoin="round" d="M362.5,424.7 360.1,425.8 358.5,428.5 356.8,431.2 355.8,433.9 355.8,436.5 355.6,439.3 356.3,441.0 357.9,440.3 360.1,441.9 362.8,444.1 365.3,446.2 365.3,443.0 366.0,440.3 367.1,438.2 368.2,436.5 370.6,436.0 371.9,434.9 373.2,433.1 370.3,431.2 366.5,429.0 363.9,426.6 362.5,424.7Z"/>
<path fill="#a9a9a9" stroke="#a9a9a9" stroke-width="0.5" stroke-linejoin="round" d="M385.4,437.1 386.5,434.9 387.0,432.8 385.4,431.7 382.7,430.1 380.0,428.5 377.3,426.6 375.7,427.4 375.2,430.1 373.2,433.1 371.9,434.9 370.6,436.0 371.7,436.5 373.5,437.8 375.7,439.2 377.3,440.9 379.5,441.4 381.6,440.3 383.2,438.7 385.4,437.1Z"/>
<path fill="#a9a9a9" stroke="#a9a9a9" stroke-width="0.5" stroke-linejoin="round" d="M370.6,436.0 368.2,436.5 367.1,438.2 366.0,440.3 365.3,443.0 365.3,446.2 366.0,449.5 367.1,452.7 366.5,456.5 367.1,460.2 368.2,463.5 369.8,466.2 371.9,468.9 374.1,471.6 376.5,474.6 377.3,473.7 378.4,471.6 379.7,469.4 381.1,467.2 382.2,464.6 383.2,461.9 383.6,459.7 381.6,457.0 379.5,454.9 378.4,452.2 377.9,448.9 376.8,446.2 377.1,443.5 377.3,440.9 375.7,439.2 373.5,437.8 371.7,436.5 370.6,436.0Z"/>
<path fill="#c2c7ea" stroke="#c2c7ea" stroke-width="0.5" stroke-linejoin="round" d="M394.0,435.5 391.3,436.0 388.1,436.5 385.4,437.1 383.2,438.7 381.6,440.3 379.5,441.4 377.3,440.9 377.1,443.5 376.8,446.2 377.9,448.9 378.4,452.2 379.5,454.9 381.6,457.0 383.6,459.7 384.3,458.1 387.0,456.5 390.2,453.8 393.5,452.2 396.7,450.0 399.9,447.9 401.2,446.2 401.0,443.0 399.4,440.3 396.7,437.6 394.0,435.5Z"/>
<path fill="#c2c7ea" stroke="#c2c7ea" stroke-width="0.5" stroke-linejoin="round" d="M392.4,410.7 396.1,414.6 401.2,415.5 406.2,415.1 411.3,413.8 416.1,414.5 421.2,413.6 424.5,411.1 427.9,407.7 432.2,405.2 436.4,404.0 440.6,404.0 444.8,405.2 449.1,405.7 447.4,409.4 445.7,412.8 446.0,417.0 444.8,421.2 444.3,424.6 446.5,427.2 449.0,429.5 445.7,430.5 441.5,431.4 438.1,433.1 435.5,434.8 434.5,436.8 432.7,437.5 431.0,441.8 425.9,443.5 420.8,444.3 415.8,443.5 410.7,445.2 405.6,447.7 399.9,447.9 401.2,446.2 401.0,443.0 399.4,440.3 396.7,437.6 394.0,435.5 392.7,435.8 394.4,432.4 396.9,429.8 397.8,425.6 396.1,421.4 393.5,418.0 391.0,414.6 392.4,410.7Z"/>
<path fill="#e9ebf6" stroke="#e9ebf6" stroke-width="0.5" stroke-linejoin="round" d="M386.4,362.3 391.5,361.8 396.5,360.1 403.4,361.2 406.8,360.3 410.2,357.8 414.4,355.2 417.8,351.8 419.0,350.5 422.0,353.5 425.4,356.9 428.8,360.3 432.2,363.7 434.7,367.1 436.4,371.3 438.1,375.5 439.3,379.8 440.6,383.2 441.5,384.5 444.8,385.7 448.2,383.7 451.6,382.0 454.5,383.7 455.0,388.2 452.5,391.6 449.9,395.0 449.1,399.2 449.4,403.5 449.1,405.7 444.8,405.2 440.6,404.0 436.4,404.0 432.2,405.2 427.9,407.7 424.5,411.1 421.2,413.6 416.1,414.5 411.3,413.8 406.2,415.1 401.2,415.5 396.1,414.6 392.4,410.7 391.8,410.4 390.2,407.0 387.6,406.2 383.4,407.8 379.2,406.2 380.0,402.8 377.5,400.2 374.1,397.7 371.5,393.5 368.0,390.1 370.3,388.0 373.7,385.5 376.2,381.2 378.8,376.2 381.3,371.1 383.8,366.8 386.4,362.3Z"/>
<path fill="#4455ae" stroke="#4455ae" stroke-width="0.5" stroke-linejoin="round" d="M434.6,449.5 431.8,447.7 427.6,446.8 423.4,448.5 419.2,450.2 415.8,451.9 413.2,454.5 411.5,456.2 413.2,458.7 415.8,461.2 414.1,462.9 410.7,460.4 407.3,458.7 404.8,459.5 407.0,462.1 408.2,464.6 405.6,463.8 402.2,460.4 400.5,461.2 401.4,465.5 403.1,468.8 405.6,472.2 408.2,474.8 410.7,475.6 409.3,477.3 406.5,476.5 405.6,479.0 408.2,480.7 411.5,482.4 415.8,484.9 419.2,487.5 420.8,490.8 420.0,493.4 416.6,490.8 413.2,488.3 409.8,486.6 407.0,485.8 404.8,484.1 403.1,485.8 405.6,487.5 408.2,489.2 405.6,490.0 401.4,489.2 398.0,488.8 394.6,490.0 392.1,490.8 388.7,488.3 385.3,484.9 382.8,481.5 380.2,478.2 377.7,475.6 376.5,474.6 377.3,473.7 378.4,471.6 379.7,469.4 381.1,467.2 382.2,464.6 383.2,461.9 383.6,459.7 384.3,458.1 387.0,456.5 390.2,453.8 393.5,452.2 396.7,450.0 399.9,447.9 405.6,447.7 410.7,445.2 415.8,443.5 420.8,444.3 425.9,443.5 431.0,441.8 432.7,437.5 434.5,436.8 437.8,439.2 436.9,443.5 435.2,447.7 434.6,449.5Z M390.4,494.2 392.9,491.7 397.2,490.5 401.4,490.8 405.6,491.7 409.0,493.4 411.5,495.9 414.1,498.5 412.4,500.2 409.3,498.5 407.3,499.3 409.3,502.7 411.5,506.9 412.4,510.3 410.4,509.5 408.2,506.1 406.5,505.2 407.0,509.5 405.6,512.0 403.6,508.6 401.4,505.2 399.7,506.1 398.8,508.6 396.8,506.1 395.5,501.8 392.9,498.5 390.7,496.3Z M408.2,479.3 411.5,479.8 415.8,482.0 420.0,484.9 423.4,487.5 422.5,488.8 418.3,487.5 414.1,484.9 409.8,482.4 407.6,480.7Z M420.0,523.0 423.4,521.6 428.5,522.2 433.5,522.7 439.5,522.2 444.5,521.6 449.3,521.0 449.6,523.0 446.2,524.4 441.2,525.5 436.1,527.2 431.8,526.0 426.8,526.0 422.5,525.5 420.5,524.7Z M463.2,505.2 464.8,501.8 466.9,501.3 466.2,505.2 464.5,508.6 462.8,507.8Z M435.7,469.7 438.6,468.0 442.0,468.8 442.8,471.4 439.5,472.2 436.4,471.4Z M436.9,479.0 439.5,478.2 440.3,481.5 438.6,483.2 436.9,481.5Z M425.6,462.1 428.5,461.2 429.0,463.4 426.3,464.1Z M419.2,452.8 421.2,452.8 420.8,455.0 419.2,454.5Z M371.8,473.9 373.5,474.8 374.8,477.3 373.5,477.0Z M381.1,491.7 383.6,490.5 385.3,492.5 383.3,494.2 381.6,493.4Z M385.0,497.3 386.7,498.0 387.0,499.3 385.3,499.0Z M447.6,487.5 450.5,487.1 450.0,488.8 447.6,488.8Z M435.2,497.6 436.9,497.3 437.8,499.0 436.4,500.3 435.1,499.3Z"/>
<path fill="#e9ebf6" stroke="#e9ebf6" stroke-width="0.5" stroke-linejoin="round" d="M449.0,429.5 450.8,432.2 453.9,434.4 457.6,435.9 460.7,436.9 467.7,436.5 474.5,434.8 481.2,432.2 486.3,428.0 491.4,422.9 496.5,418.7 501.5,415.3 506.6,413.6 507.0,412.6 513.9,409.1 519.7,411.0 525.5,411.4 531.3,413.8 537.1,413.3 544.1,412.6 549.9,410.3 555.7,407.3 561.5,405.6 567.3,403.3 570.8,399.8 574.3,396.4 577.8,391.7 582.4,389.4 587.1,386.4 591.7,387.8 597.5,388.7 601.0,392.9 603.3,397.5 609.1,399.8 614.2,399.8 611.4,405.6 613.8,411.4 618.4,416.1 620.7,423.1 625.4,428.9 630.0,432.0 617.9,432.5 612.8,434.1 607.5,440.5 602.0,443.7 596.5,447.4 590.9,451.1 585.4,455.7 579.8,459.4 574.3,462.2 567.8,462.5 563.2,465.8 557.7,468.6 552.2,470.5 553.1,476.0 550.3,480.6 548.5,484.3 547.1,481.5 546.0,479.2 546.2,476.5 547.6,473.2 546.6,471.4 545.2,471.8 543.4,474.2 541.6,476.5 538.8,477.4 535.5,477.8 532.3,478.3 530.0,480.2 528.2,482.9 526.3,485.7 523.1,488.0 519.9,489.9 516.6,491.7 512.9,492.6 509.2,491.7 505.5,489.9 502.8,488.0 500.0,486.6 492.7,491.7 487.6,496.8 482.5,498.4 475.8,496.8 470.7,495.1 465.6,496.8 460.5,493.4 455.5,488.3 449.6,485.0 448.4,482.1 446.5,479.0 447.8,477.2 447.2,474.1 445.3,471.0 443.5,468.5 444.1,466.1 442.2,464.2 439.2,462.4 437.3,459.9 437.9,457.5 436.7,456.6 438.5,454.1 441.0,451.9 443.5,450.0 441.0,450.1 437.3,450.7 434.6,449.5 435.2,447.7 436.9,443.5 437.8,439.2 434.5,436.8 435.5,434.8 438.1,433.1 441.5,431.4 445.7,430.5 449.0,429.5Z"/>
<path fill="#4455ae" stroke="#4455ae" stroke-width="0.5" stroke-linejoin="round" d="M513.7,506.9 515.2,505.5 517.5,503.7 519.9,501.9 521.2,500.5 524.0,499.7 526.8,498.6 529.1,497.2 530.9,495.4 532.8,493.3 534.6,491.4 535.5,491.4 534.6,493.1 533.1,495.4 531.6,497.7 530.7,499.7 531.9,501.4 532.1,502.5 530.5,502.8 528.6,504.6 526.3,506.9 524.2,508.8 522.6,510.2 519.9,510.2 516.6,510.4 514.8,508.8Z"/>
<path fill="#e9ebf6" stroke="#e9ebf6" stroke-width="0.5" stroke-linejoin="round" d="M249.5,425.0 252.9,422.3 257.2,420.1 261.4,419.2 265.6,420.1 269.8,422.3 273.2,425.2 274.9,429.4 276.6,434.5 279.2,438.7 283.4,442.9 287.6,447.2 291.8,451.4 296.1,454.8 300.3,458.2 282.0,441.0 287.0,446.0 292.0,451.0 297.0,455.0 302.0,459.0 308.0,461.0 313.0,464.0 318.0,467.0 322.0,471.0 325.0,474.0 329.0,475.0 333.0,477.0 335.0,481.0 337.0,487.0 336.4,491.0 334.0,494.0 333.0,498.0 332.0,501.0 335.0,501.0 338.0,498.0 341.0,494.0 344.0,490.0 346.0,486.0 345.6,482.0 342.0,479.0 340.0,475.0 341.0,471.0 343.0,468.0 348.0,469.0 352.0,471.0 356.0,474.0 359.0,472.0 357.0,468.0 353.0,465.0 348.0,462.0 342.0,459.0 336.0,456.0 332.0,453.0 333.0,450.0 329.0,450.0 325.0,449.0 321.0,447.0 317.0,443.0 313.0,438.0 310.0,433.0 307.9,431.1 304.5,426.8 301.2,423.5 297.8,419.2 295.2,415.0 293.5,410.8 294.4,407.4 297.8,404.8 302.0,403.7 306.2,404.8 306.2,404.2 307.4,401.2 305.5,398.7 304.9,395.0 306.1,390.8 302.8,390.1 297.8,388.8 292.7,387.1 290.2,385.4 285.9,384.5 280.8,385.4 276.6,385.4 275.8,388.8 273.2,391.3 270.7,389.6 268.2,392.2 265.6,393.8 263.6,398.9 261.4,396.4 258.8,393.0 256.3,394.7 252.9,397.2 248.7,398.1 244.5,397.2 243.6,398.0 245.0,401.5 242.8,404.8 241.9,408.2 243.6,411.6 242.8,415.0 243.6,418.4 247.0,420.9 250.0,422.3 249.5,425.0Z M298.6,503.0 303.0,500.4 308.0,500.0 314.0,501.0 320.0,501.6 326.0,500.0 331.0,498.4 329.6,503.0 327.0,508.0 328.4,513.0 327.0,518.0 323.0,517.0 318.0,514.0 312.0,510.0 306.0,508.0 301.0,507.0 298.4,505.6Z M255.0,466.0 259.0,463.0 264.0,461.0 268.0,462.0 270.0,467.0 269.6,473.0 269.0,480.0 267.6,486.0 264.0,489.0 260.0,490.0 256.0,489.0 255.0,483.0 256.0,477.0 255.6,471.0Z"/>
<path fill="#1d2266" stroke="#1d2266" stroke-width="0.5" stroke-linejoin="round" d="M318.0,527.6 319.6,528.0 321.6,529.6 320.4,530.4 318.6,529.2Z"/>
<path fill="#4455ae" stroke="#4455ae" stroke-width="0.5" stroke-linejoin="round" d="M132.0,262.0 135.0,260.0 141.0,259.0 144.4,260.2 141.0,263.0 138.0,265.4 135.6,268.0 137.0,270.0 140.0,271.4 143.0,271.0 144.0,274.0 146.4,276.0 147.0,279.0 146.0,284.0 146.4,289.0 145.0,294.0 142.0,298.0 138.0,300.0 133.0,301.0 128.0,302.6 123.0,303.0 118.0,304.0 113.0,303.0 110.0,300.0 109.0,296.0 112.0,293.0 117.0,290.0 120.0,287.0 118.0,284.0 117.0,279.0 119.0,275.0 118.4,271.0 120.0,267.4 124.0,267.0 128.0,268.6 131.0,267.4 133.0,265.0Z"/>
<path fill="#a9a9a9" stroke="#a9a9a9" stroke-width="0.5" stroke-linejoin="round" d="M92.5,92.0 95.4,91.7 97.1,89.0 99.6,88.3 102.2,90.3 103.3,87.4 105.2,86.9 106.4,89.5 106.4,93.7 105.9,97.9 106.9,101.3 110.6,100.5 113.2,97.6 115.4,100.5 119.1,99.1 121.6,101.3 125.0,101.0 128.4,103.0 131.8,102.2 135.2,100.1 137.7,101.3 138.5,104.7 140.7,105.9 140.7,111.5 142.8,114.3 143.1,119.1 141.1,121.6 139.7,125.0 135.2,126.7 133.0,129.2 129.2,128.4 126.7,130.1 122.5,130.6 119.1,132.3 114.3,131.3 110.6,133.0 105.9,131.8 102.2,129.2 99.1,125.8 97.1,121.6 95.0,119.1 91.2,118.2 88.3,116.5 89.0,115.4 92.8,115.4 95.4,113.7 95.0,108.1 93.7,104.7 91.2,103.8 87.8,102.5 88.6,101.3 92.8,101.8 97.1,101.3 100.1,99.1 99.6,96.2 97.9,95.0 95.0,94.5 92.5,92.8Z"/>
<path fill="#1d2266" stroke="#1d2266" stroke-width="0.5" stroke-linejoin="round" d="M190.3,56.6 192.0,55.6 194.8,55.4 194.5,56.6 191.5,57.4Z"/>
<path fill="#fff" d="M260.6,255.3 262.9,253.8 266.2,252.7 267.0,254.5 266.2,256.2 265.1,254.5 262.7,255.3 261.3,256.2Z M461.1,436.7 461.6,436.7 461.7,441.2 464.4,441.2 467.1,442.2 464.6,444.5 461.9,446.4 459.5,447.6 456.4,448.0 453.3,447.2 450.8,448.2 448.4,449.6 446.2,449.5 443.5,451.6 440.4,453.8 437.9,456.5 437.1,455.9 439.8,452.9 442.8,450.7 446.2,448.5 449.0,446.4 451.5,444.5 454.5,443.1 457.6,442.1 460.4,441.6Z"/>
<g fill="#4455ae"><circle cx="424.2" cy="490.8" r="0.7"/><circle cx="427.6" cy="489.2" r="0.7"/><circle cx="431.8" cy="493.4" r="0.7"/><circle cx="433.5" cy="499.3" r="0.7"/><circle cx="430.2" cy="501.8" r="0.7"/><circle cx="426.8" cy="504.4" r="0.7"/><circle cx="431.8" cy="504.4" r="0.7"/><circle cx="434.4" cy="503.5" r="0.7"/><circle cx="439.5" cy="501.0" r="0.7"/><circle cx="442.0" cy="490.8" r="0.7"/><circle cx="444.5" cy="490.0" r="0.7"/><circle cx="446.2" cy="498.5" r="0.7"/><circle cx="452.2" cy="497.6" r="0.7"/><circle cx="454.7" cy="498.5" r="0.7"/><circle cx="457.2" cy="501.8" r="0.7"/><circle cx="447.1" cy="503.5" r="0.7"/><circle cx="437.8" cy="507.8" r="0.7"/><circle cx="441.2" cy="506.9" r="0.7"/><circle cx="457.2" cy="514.5" r="0.7"/><circle cx="458.1" cy="516.2" r="0.7"/><circle cx="415.8" cy="514.5" r="0.7"/><circle cx="416.6" cy="517.9" r="0.7"/><circle cx="412.4" cy="512.0" r="0.7"/><circle cx="442.8" cy="500.2" r="0.7"/><circle cx="423.4" cy="495.1" r="0.7"/><circle cx="425.9" cy="500.2" r="0.7"/><circle cx="428.5" cy="506.1" r="0.7"/><circle cx="450.5" cy="490.8" r="0.7"/><circle cx="422.5" cy="477.3" r="0.7"/><circle cx="417.5" cy="470.5" r="0.7"/><circle cx="414.9" cy="475.6" r="0.7"/><circle cx="425.1" cy="468.0" r="0.7"/><circle cx="434.4" cy="479.8" r="0.7"/><circle cx="383.6" cy="487.5" r="0.7"/><circle cx="386.2" cy="497.6" r="0.7"/></g>
<g fill="#1d2266"><circle cx="340.5" cy="204.3" r="0.85"/><circle cx="342.2" cy="205.5" r="0.85"/><circle cx="343.6" cy="203.8" r="0.85"/><circle cx="345.0" cy="205.8" r="0.85"/><circle cx="346.5" cy="204.6" r="0.85"/><circle cx="348.0" cy="205.3" r="0.85"/><circle cx="349.3" cy="204.0" r="0.85"/><circle cx="341.5" cy="206.6" r="0.85"/><circle cx="344.2" cy="207.0" r="0.85"/><circle cx="347.2" cy="206.8" r="0.85"/></g>
<g fill="none" stroke="#23233a" stroke-width="0.65" stroke-linejoin="round" stroke-linecap="round">
<path d="M369.0,70.0 366.0,72.0 364.0,74.0 363.0,76.0 M363.0,76.0 360.0,71.0 355.0,69.0 351.0,70.0 348.0,73.0 347.0,79.0 346.0,85.0 344.0,89.0 340.0,88.0 337.0,91.0 333.0,90.0 329.0,87.0 325.6,85.4 M325.6,85.4 323.0,90.0 320.0,95.0 315.0,97.0 312.0,102.0 310.0,104.0 306.0,107.0 305.0,113.0 303.0,119.0 299.0,125.0 298.0,131.0 296.0,137.0 295.0,143.0 294.0,149.0 295.0,153.0 296.0,156.1 293.5,156.9 289.2,159.5 286.7,163.7 285.8,168.8 285.5,173.8 285.8,178.9 286.7,184.0 287.5,189.1 290.1,194.2 288.4,198.4 289.2,202.6 289.6,207.7 288.4,212.8 285.8,217.0 285.0,221.2 283.8,226.0 M363.0,76.0 363.0,77.0 362.0,83.0 365.0,89.0 369.0,94.0 372.0,98.0 371.0,105.0 374.0,110.0 378.0,115.0 380.0,121.0 381.0,128.0 384.0,133.0 387.0,139.0 390.2,140.0 391.0,145.1 394.4,148.5 398.6,151.0 401.5,154.4 401.2,159.5 399.5,165.4 397.8,171.3 395.2,177.2 392.7,183.2 390.7,189.6 M325.6,85.4 328.0,89.0 333.0,94.0 338.0,97.0 340.0,103.0 343.0,108.0 344.0,113.0 346.0,119.0 348.0,124.0 348.8,128.7 M393.5,204.6 392.7,209.4 391.8,212.8 393.5,217.0 394.7,221.2 395.7,225.5 396.5,230.3 M373.5,229.5 379.2,228.4 383.4,229.2 387.6,230.9 391.8,230.1 396.1,229.2 396.5,230.3 M396.5,230.3 399.5,235.2 400.3,239.4 402.8,242.8 404.5,246.2 M404.5,246.2 402.8,250.4 400.3,252.9 396.9,254.1 396.1,255.1 M396.1,255.1 391.8,252.9 387.6,251.2 383.4,250.4 380.5,248.7 377.5,250.7 373.2,251.2 368.2,252.1 363.9,252.9 359.7,253.8 356.3,255.1 354.1,256.8 M396.1,255.1 397.8,259.7 395.2,263.1 393.5,267.3 392.7,272.4 393.5,275.4 390.2,276.6 387.6,279.2 384.2,281.2 380.0,282.2 377.8,282.2 M377.8,282.2 374.9,279.2 372.7,277.8 372.0,277.8 M372.0,277.8 370.4,274.1 369.8,270.7 366.5,269.3 362.2,268.7 358.0,268.2 356.0,267.3 M348.9,279.2 358.8,280.0 367.3,279.2 372.0,277.8 M377.8,282.2 380.0,286.8 382.5,291.8 384.2,297.8 381.7,301.2 379.5,304.5 382.5,308.8 385.3,313.0 M385.3,313.0 387.2,314.4 388.9,319.5 390.6,324.5 388.9,328.8 386.4,333.8 383.0,338.9 381.3,344.0 383.0,347.7 M348.8,346.5 352.5,345.4 355.9,348.2 360.2,347.4 364.4,345.7 369.5,345.4 374.5,345.7 378.8,346.5 383.0,347.7 M314.0,330.1 317.0,331.3 321.2,333.0 325.5,334.7 328.0,338.1 331.4,336.4 335.6,338.1 339.0,340.6 343.2,342.3 346.6,344.8 348.8,346.5 M305.7,291.3 306.8,296.1 307.7,301.2 309.4,306.2 310.2,311.3 311.1,315.2 311.9,320.3 313.6,325.4 314.0,330.1 M249.6,300.0 250.6,302.0 250.8,304.5 249.8,306.9 248.8,308.9 246.3,309.9 245.8,311.4 247.8,312.4 248.8,313.9 248.3,315.9 246.8,317.4 244.8,318.4 243.3,318.9 241.8,320.4 240.8,322.4 240.0,324.9 239.3,327.3 238.8,329.3 238.0,330.6 238.6,333.3 M238.6,333.3 239.3,335.3 240.3,337.3 241.3,339.3 241.6,341.7 M241.6,341.7 242.8,344.3 243.3,347.2 242.6,349.6 M242.6,349.6 244.1,352.3 246.6,354.3 250.8,356.3 255.9,358.0 254.2,362.8 252.5,367.8 251.7,372.9 252.0,376.8 M252.0,376.8 255.9,374.6 260.2,375.5 264.4,376.6 267.8,378.0 269.4,379.2 M269.4,379.2 272.4,378.6 277.5,378.3 282.5,377.8 287.6,376.9 292.7,376.6 297.8,376.9 300.3,374.4 297.8,371.0 299.5,367.6 303.7,365.1 305.9,362.0 306.5,360.6 M314.0,330.1 310.2,331.3 306.8,333.0 301.8,335.5 297.5,338.1 299.9,336.5 294.8,339.1 291.5,340.8 293.2,344.2 294.8,348.4 298.2,352.6 301.6,356.0 298.4,352.5 302.6,356.7 306.5,360.6 M217.4,324.7 219.9,324.9 222.4,324.4 224.9,323.9 227.4,323.7 229.9,324.1 231.9,324.9 233.9,326.3 235.3,327.8 236.8,329.3 237.8,330.8 238.6,333.3 M241.6,341.7 239.0,341.6 237.6,344.3 237.0,346.7 236.9,349.4 M236.9,349.4 239.8,349.8 242.6,349.6 M210.1,328.0 211.0,329.3 212.5,331.3 214.5,332.8 215.9,334.3 217.9,335.8 219.9,337.3 221.4,339.3 222.9,341.3 224.4,342.8 226.4,342.3 227.9,343.8 229.4,345.2 231.1,346.7 232.9,348.2 234.9,349.2 236.9,349.4 M159.5,424.3 162.0,427.0 166.0,430.0 171.0,433.0 177.0,435.4 182.0,434.6 186.0,437.0 190.0,439.0 195.0,440.6 200.0,442.0 205.0,442.0 M243.6,398.0 245.0,401.5 242.8,404.8 241.9,408.2 243.6,411.6 242.8,415.0 243.6,418.4 247.0,420.9 250.0,422.3 249.5,425.0 M252.0,376.8 248.7,376.9 247.0,377.8 243.6,381.2 240.2,385.4 237.7,389.6 236.0,393.8 236.8,394.7 239.4,393.0 242.8,393.8 243.6,398.0 M243.6,398.0 244.5,397.2 248.7,398.1 252.9,397.2 256.3,394.7 258.8,393.0 261.4,396.4 263.6,398.9 265.6,393.8 268.2,392.2 270.7,389.6 273.2,391.3 275.8,388.8 276.6,385.4 M269.4,379.2 269.8,382.8 273.2,384.5 276.6,385.4 M88.3,426.9 91.8,426.3 94.8,427.9 95.8,430.8 99.8,431.8 104.8,431.4 107.8,432.8 109.8,435.8 112.1,438.2 110.7,441.8 106.8,443.8 104.2,445.8 103.8,449.8 102.8,453.7 100.8,456.7 99.8,459.7 95.8,460.7 94.2,461.7 95.4,465.7 96.8,469.7 94.8,473.6 92.8,477.6 94.8,481.6 92.8,484.6 89.9,487.6 88.9,490.5 88.9,493.1 M306.5,360.6 311.1,359.2 315.3,357.5 320.4,358.4 325.5,359.2 330.5,359.2 333.6,359.6 M333.6,359.6 336.5,355.8 339.8,352.5 343.2,349.9 346.6,347.4 348.8,346.5 M333.6,359.6 334.3,363.5 336.5,366.8 M383.0,347.7 381.3,352.5 379.3,357.2 M336.5,366.8 337.3,367.7 340.7,369.7 345.8,370.2 350.8,369.4 352.5,366.8 355.9,364.3 360.2,362.6 364.4,360.1 369.5,357.5 374.5,356.7 379.3,357.2 M379.3,357.2 383.0,359.2 386.4,362.3 M386.4,362.3 383.8,366.8 381.3,371.1 378.8,376.2 376.2,381.2 373.7,385.5 370.3,388.0 368.0,390.1 M368.0,390.1 362.7,392.2 357.6,393.9 354.0,394.5 M354.0,394.5 347.5,396.5 343.2,394.8 339.0,392.2 335.6,389.7 332.2,387.2 330.5,384.6 330.2,385.3 M330.2,385.3 329.5,383.0 M329.5,383.0 331.4,378.7 330.5,375.3 333.1,372.8 335.6,370.2 336.5,366.8 M306.1,390.8 311.3,390.5 316.4,388.8 321.5,387.9 326.5,387.1 329.5,383.0 M276.6,385.4 280.8,385.4 285.9,384.5 290.2,385.4 292.7,387.1 297.8,388.8 302.8,390.1 306.1,390.8 M306.1,390.8 304.9,395.0 305.5,398.7 307.4,401.2 306.2,404.2 M307.3,404.9 309.8,403.6 313.5,402.4 317.2,403.0 321.5,403.6 322.8,399.9 324.6,396.2 325.7,394.7 328.2,392.2 330.2,385.3 M354.0,394.5 356.3,397.7 358.8,401.9 358.0,406.8 M358.0,406.8 355.4,406.7 351.7,406.1 348.0,405.5 344.3,405.1 340.6,405.5 336.3,405.1 332.6,404.8 329.5,406.1 326.5,406.7 327.1,409.8 328.9,413.5 330.8,416.5 332.6,419.0 335.1,421.5 337.5,423.9 340.0,426.4 342.5,428.8 344.9,431.3 347.4,433.2 349.8,435.0 352.3,436.8 354.8,438.3 355.6,439.3 M355.6,439.3 356.3,441.0 M358.0,406.8 359.7,407.9 359.1,411.0 360.3,414.1 362.2,416.5 363.4,419.0 362.8,421.5 363.4,423.9 362.5,424.7 M362.5,424.7 360.1,425.8 358.5,428.5 356.8,431.2 355.8,433.9 355.8,436.5 355.6,439.3 M368.0,390.1 371.5,393.5 374.1,397.7 377.5,400.2 380.0,402.8 379.2,406.2 383.4,407.8 387.6,406.2 390.2,407.0 391.8,410.4 392.4,410.7 M392.4,410.7 391.0,414.6 393.5,418.0 396.1,421.4 397.8,425.6 396.9,429.8 394.4,432.4 392.7,435.8 394.0,435.5 M394.0,435.5 391.3,436.0 388.1,436.5 385.4,437.1 M385.4,437.1 386.5,434.9 387.0,432.8 385.4,431.7 382.7,430.1 380.0,428.5 377.3,426.6 375.7,427.4 375.2,430.1 373.2,433.1 M373.2,433.1 370.3,431.2 366.5,429.0 363.9,426.6 362.5,424.7 M373.2,433.1 371.9,434.9 370.6,436.0 M370.6,436.0 368.2,436.5 367.1,438.2 366.0,440.3 365.3,443.0 365.3,446.2 M370.6,436.0 371.7,436.5 373.5,437.8 375.7,439.2 377.3,440.9 M377.3,440.9 379.5,441.4 381.6,440.3 383.2,438.7 385.4,437.1 M377.3,440.9 377.1,443.5 376.8,446.2 377.9,448.9 378.4,452.2 379.5,454.9 381.6,457.0 383.6,459.7 M383.6,459.7 383.2,461.9 382.2,464.6 381.1,467.2 379.7,469.4 378.4,471.6 377.3,473.7 376.5,474.6 M394.0,435.5 396.7,437.6 399.4,440.3 401.0,443.0 401.2,446.2 399.9,447.9 M383.6,459.7 384.3,458.1 387.0,456.5 390.2,453.8 393.5,452.2 396.7,450.0 399.9,447.9 M399.9,447.9 405.6,447.7 410.7,445.2 415.8,443.5 420.8,444.3 425.9,443.5 431.0,441.8 432.7,437.5 434.5,436.8 M434.5,436.8 435.5,434.8 438.1,433.1 441.5,431.4 445.7,430.5 449.0,429.5 M392.4,410.7 396.1,414.6 401.2,415.5 406.2,415.1 411.3,413.8 416.1,414.5 421.2,413.6 424.5,411.1 427.9,407.7 432.2,405.2 436.4,404.0 440.6,404.0 444.8,405.2 449.1,405.7 M441.5,384.5 444.8,385.7 448.2,383.7 451.6,382.0 454.5,383.7 M419.0,350.5 422.0,353.5 425.4,356.9 428.8,360.3 432.2,363.7 434.7,367.1 436.4,371.3 438.1,375.5 439.3,379.8 440.6,383.2 441.5,384.5 M386.4,362.3 391.5,361.8 396.5,360.1 403.4,361.2 406.8,360.3 410.2,357.8 414.4,355.2 417.8,351.8 419.0,350.5 M434.5,436.8 437.8,439.2 436.9,443.5 435.2,447.7 434.6,449.5 M577.8,391.7 582.4,389.4 587.1,386.4 591.7,387.8 597.5,388.7 M597.5,388.7 601.0,392.9 603.3,397.5 609.1,399.8 614.2,399.8 M614.2,399.8 611.4,405.6 613.8,411.4 618.4,416.1 620.7,423.1 625.4,428.9 630.0,432.0 M630.0,432.0 617.9,432.5 612.8,434.1 607.5,440.5 M607.5,440.5 602.0,443.7 596.5,447.4 590.9,451.1 585.4,455.7 579.8,459.4 574.3,462.2 567.8,462.5 563.2,465.8 557.7,468.6 552.2,470.5 553.1,476.0 550.3,480.6 548.5,484.3 M141.0,263.0 138.0,265.4 135.6,268.0 137.0,270.0 140.0,271.4 143.0,271.0 144.0,274.0 146.4,276.0"/>
</g>
</g>
<!-- fades -->
<rect x="0" y="0" width="650" height="54.5" fill="#fff"/>
<rect x="619" y="50" width="15" height="490" fill="url(#fr)"/>
<rect x="634" y="0" width="16" height="603" fill="#fff"/>
<rect x="0" y="532" width="650" height="71" fill="#fff"/>
<!-- Malta inset -->
<rect x="503.1" y="116.8" width="57.1" height="60.9" fill="#fff" stroke="#e9e9e9" stroke-width="1"/>
<path fill="#1d2266" stroke="#1d2266" stroke-width="0.4" stroke-linejoin="round" d="M513.0,133.1 514.6,131.6 517.5,131.3 520.8,132.4 524.2,133.5 526.5,135.0 526.8,136.4 524.8,137.6 522.0,138.0 519.2,138.4 516.3,137.2 513.7,136.1 513.0,134.4Z M526.1,138.4 527.6,138.0 527.9,139.1 526.6,139.5Z M527.0,142.5 528.7,141.2 530.4,140.6 532.1,142.5 534.4,144.0 537.2,144.8 540.0,145.9 542.8,147.7 545.1,149.6 547.3,151.3 549.6,153.0 550.4,155.3 549.6,157.5 549.0,159.0 546.8,160.3 543.4,160.1 539.4,159.2 536.1,158.1 533.2,156.7 530.4,154.5 528.2,152.2 527.3,149.6 528.2,146.8 527.6,144.5Z"/>
<text x="505" y="126.5" font-size="6.2" fill="#555" textLength="15" lengthAdjust="spacingAndGlyphs" font-family="Liberation Sans, sans-serif">Malta</text>
<!-- ribbon -->
<path d="M578.1,517.4 L590.1,517.4 L563.9,550 L551.3,550Z" fill="url(#gy)"/>
<path d="M590.1,517.4 L598.8,526.9 L604.2,532.8 L591.4,533.1 L584.7,525.1Z" fill="url(#gg)"/>
<path d="M618.8,501.1 L630.4,501.1 L604.2,532.5 L598.6,526.6Z" fill="url(#gb)"/>
<!-- flag -->
<rect x="97.6" y="533.3" width="15.4" height="10.6" fill="#24378f"/>
<g fill="#f7d417"><circle cx="105.30" cy="535.30" r="0.45"/><circle cx="106.95" cy="535.74" r="0.45"/><circle cx="108.16" cy="536.95" r="0.45"/><circle cx="108.60" cy="538.60" r="0.45"/><circle cx="108.16" cy="540.25" r="0.45"/><circle cx="106.95" cy="541.46" r="0.45"/><circle cx="105.30" cy="541.90" r="0.45"/><circle cx="103.65" cy="541.46" r="0.45"/><circle cx="102.44" cy="540.25" r="0.45"/><circle cx="102.00" cy="538.60" r="0.45"/><circle cx="102.44" cy="536.95" r="0.45"/><circle cx="103.65" cy="535.74" r="0.45"/></g>
</svg>
<div class="t" id="title">Use of generative AI tools in 2025</div>
<div class="t" id="sub">(% of people aged 16-74 who used generative AI in the last 3 months)</div>
<div id="leg">
 <div class="lt">% (EU = 32.7%)</div>
 <div class="sw" style="top:16.6px;background:#1d2266"></div><div class="ll" style="top:16.6px">≥ 45</div>
 <div class="sw" style="top:28.85px;background:#4455ae"></div><div class="ll" style="top:28.85px">40 – &lt; 45</div>
 <div class="sw" style="top:41.1px;background:#6c7ad0"></div><div class="ll" style="top:41.1px">35 – &lt; 40</div>
 <div class="sw" style="top:53.35px;background:#959fd9"></div><div class="ll" style="top:53.35px">30 – &lt; 35</div>
 <div class="sw" style="top:65.6px;background:#c2c7ea"></div><div class="ll" style="top:65.6px">20 – &lt; 30</div>
 <div class="sw" style="top:77.85px;background:#e9ebf6"></div><div class="ll" style="top:77.85px">&lt; 20</div>
 <div class="sw" style="top:96.2px;background:#a9a9a9"></div><div class="ll" style="top:96.2px;left:24.4px;transform:scaleX(0.994)">Data not available</div>
</div>
<div class="t" id="euro">eurostat</div>
<div class="t" id="src">Source dataset: isoc_ai_iaiu</div>
<div class="f" style="top:551.3px;transform:scaleX(0.921)">Administrative boundaries: © EuroGeographics © OpenStreetMap</div>
<div class="f" style="top:562.6px;transform:scaleX(0.896)">Cartography: Eurostat – IMAGE, 12/2025</div>
<div class="f" style="top:573px;transform:scaleX(0.929)">Kosovo* - This designation is without prejudice to positions on status, and is in line with</div>
<div class="f" style="top:583.7px;transform:scaleX(0.911)">UNSCR 1244/1999 and the ICJ Opinion on the Kosovo declaration of independence.</div>
</body></html>
